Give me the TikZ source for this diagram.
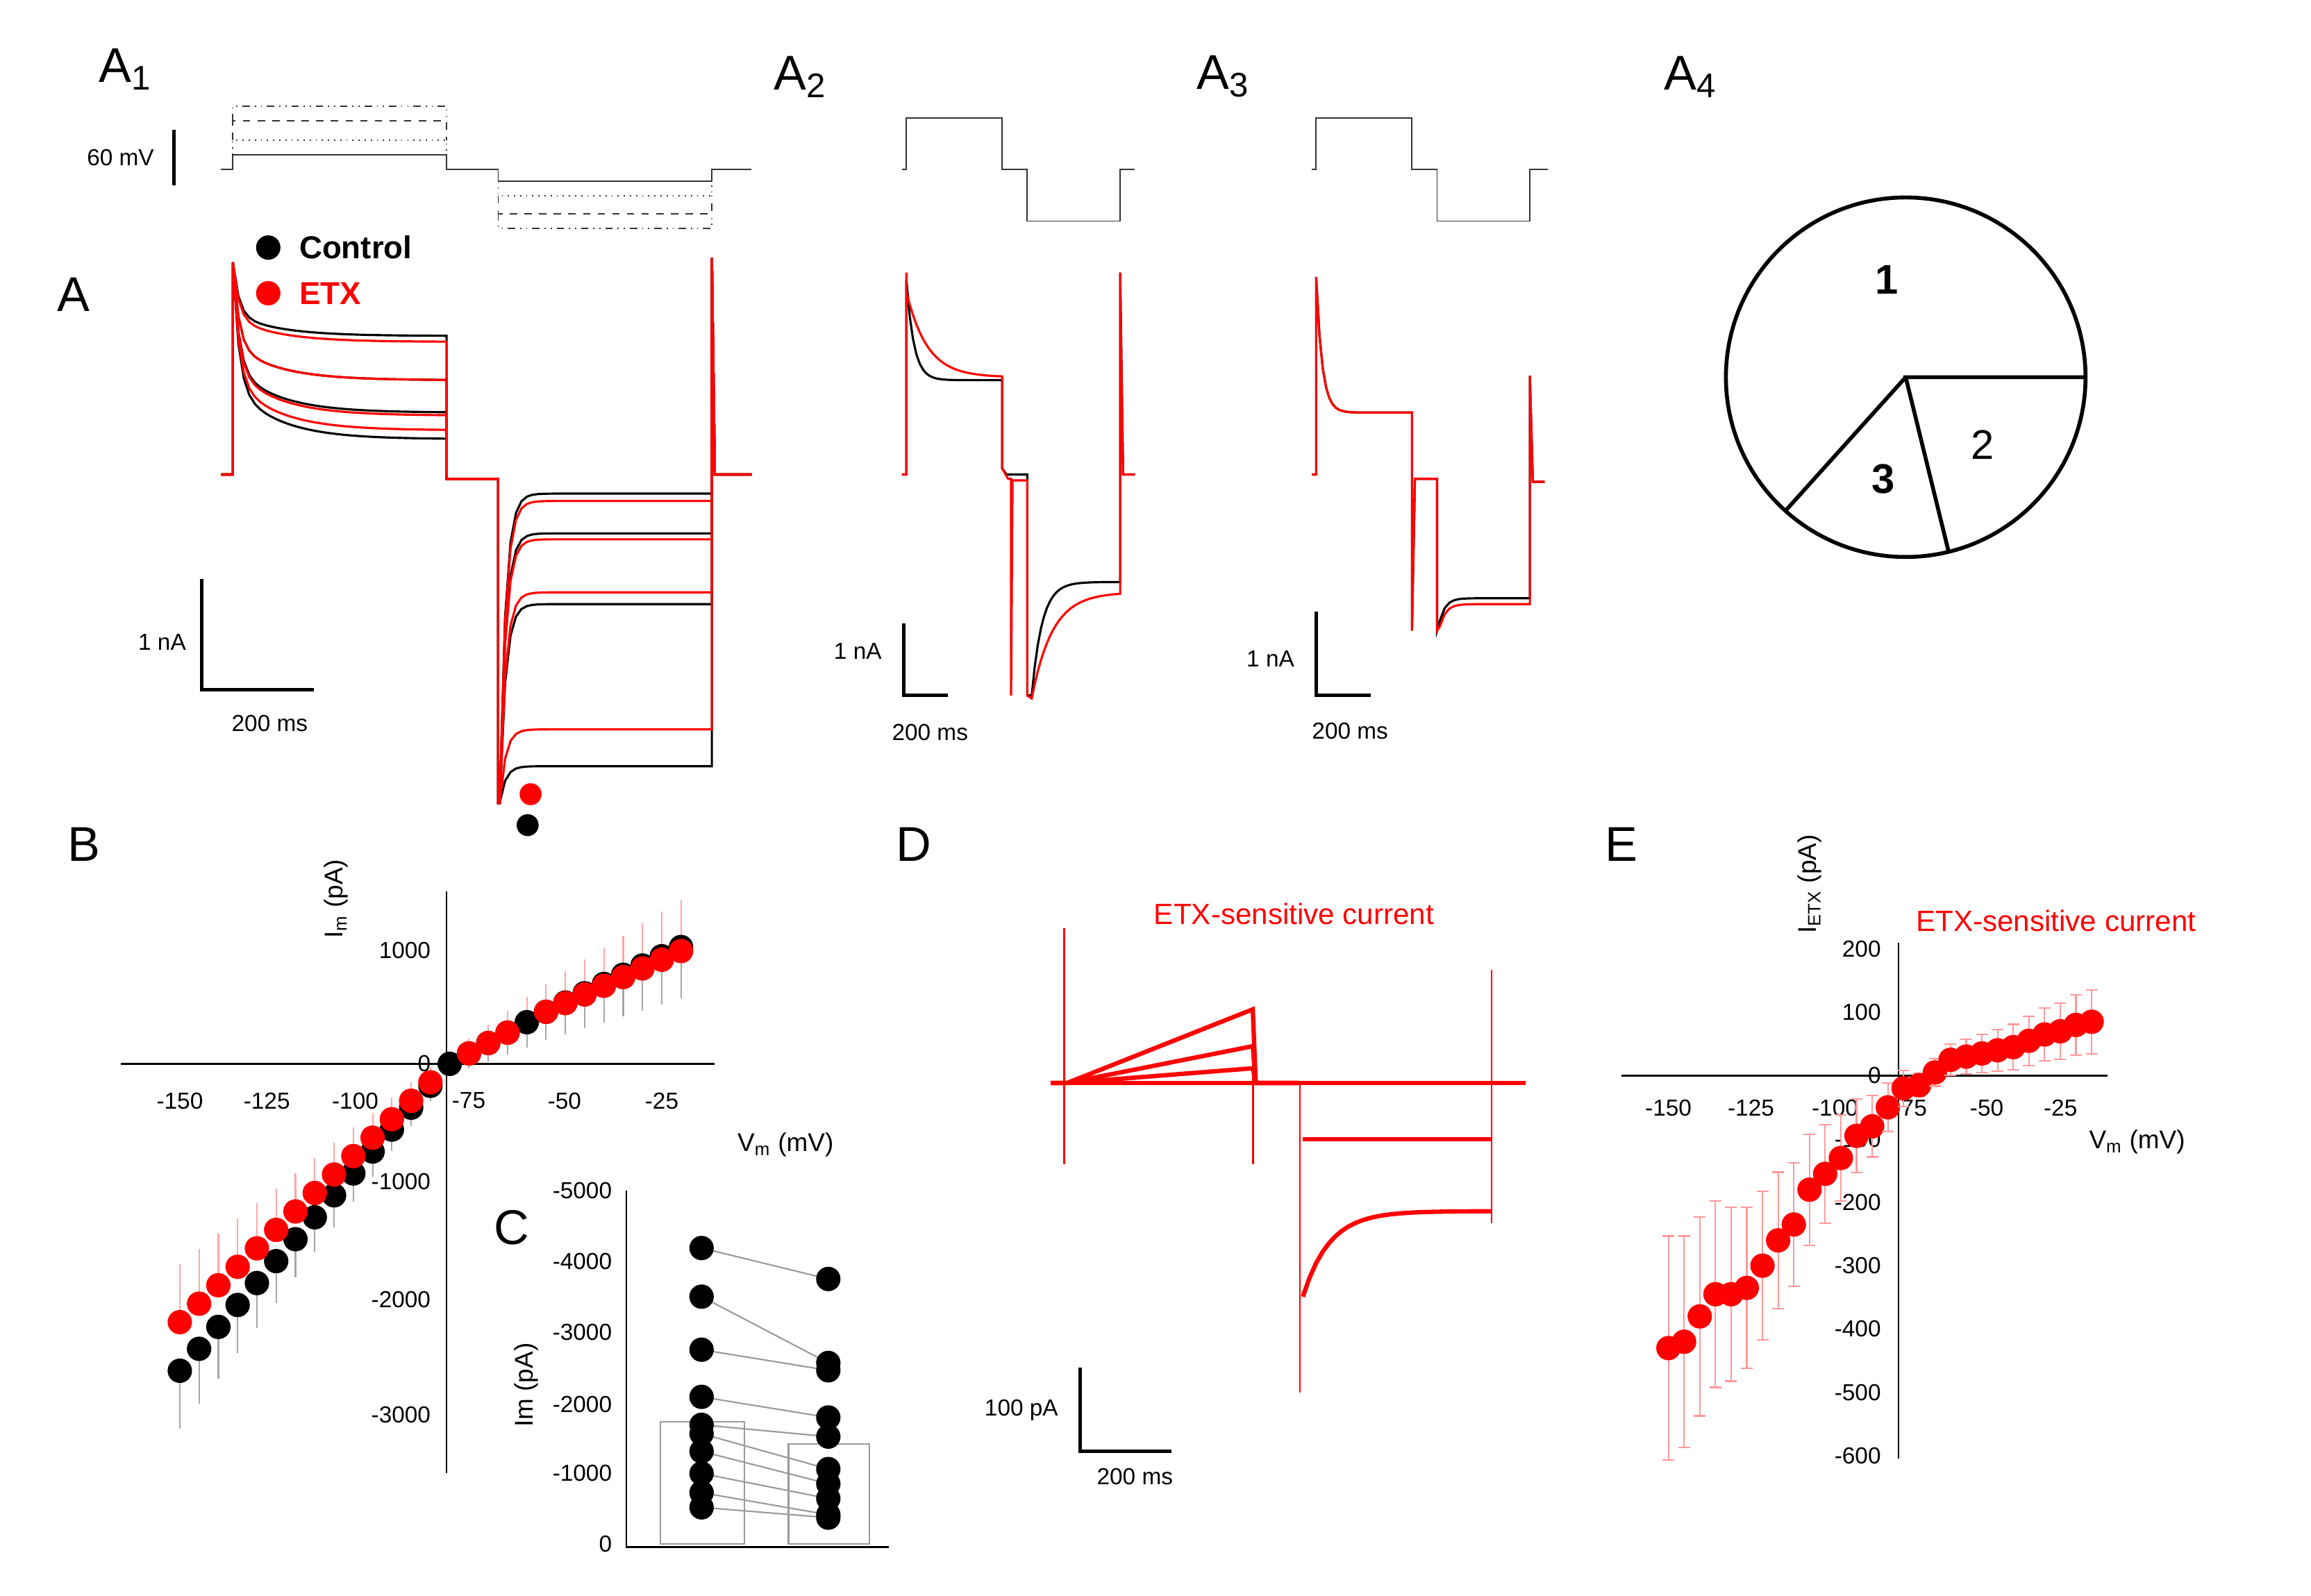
\documentclass[tikz,border=0pt]{standalone}
\usepackage{fontspec}
\setmainfont{Liberation Sans}
\usetikzlibrary{positioning}
\begin{document}
\begin{tikzpicture}[x=0.02122cm, y=-0.02122cm,
  panel/.style = {font=\fontsize{20}{22}\selectfont},
  tick/.style = {font=\fontsize{9.5}{11}\selectfont},
  lab/.style = {font=\fontsize{10.5}{12}\selectfont},
  prot/.style = {line width=0.5pt, black!80},
  trc/.style = {line width=0.9pt},
  bar/.style = {line width=1.4pt},
  ax/.style = {line width=0.7pt},
  dotb/.style = {circle, fill=black, inner sep=0pt, minimum size=10pt},
  dotr/.style = {circle, fill=red, inner sep=0pt, minimum size=10pt}]
\useasboundingbox (0,0) rectangle (1568,1083);
% panel letters
\node[panel] (pA1) at (85,47) {A\textsubscript{1}};
\node[panel] (pA2) at (543,52) {A\textsubscript{2}};
\node[panel] (pA3) at (830,52) {A\textsubscript{3}};
\node[panel] (pA4) at (1147,52) {A\textsubscript{4}};
\node[panel] (pA) at (50,200) {A};
\node[panel] (pB) at (57,573) {B};
\node[panel] (pC) at (347,833) {C};
\node[panel] (pD) at (620,573) {D};
\node[panel] (pE) at (1100,573) {E};
% A1 protocol
\draw[prot] (150,115) -- (158,115) -- (158,105) -- (303,105) -- (303,115) -- (338,115) -- (338,123) -- (483,123) -- (483,115) -- (510,115);
\draw[prot, dotted] (158,105) -- (158,95) -- (303,95) -- (303,105);
\draw[prot, dotted] (338,123) -- (338,133) -- (483,133) -- (483,123);
\draw[prot, dashed] (158,95) -- (158,82) -- (303,82) -- (303,95);
\draw[prot, dashed] (338,133) -- (338,145) -- (483,145) -- (483,133);
\draw[prot, dash dot dot] (158,82) -- (158,72) -- (303,72) -- (303,82);
\draw[prot, dash dot dot] (338,145) -- (338,155) -- (483,155) -- (483,145);
\coordinate (mv1) at (118,88);
\coordinate (mv2) at (118,126);
\draw[bar] (mv1) -- (mv2);
\node[tick, left=1pt] (mvlab) at (112,107) {60 mV};
% legend
\node[dotb] (lgb) at (182,168) {};
\node[dotr] (lgr) at (182,199) {};
\node[font=\fontsize{13}{15}\selectfont\bfseries, right=4pt of lgb] (lgbt) {Control};
\node[font=\fontsize{13}{15}\selectfont\bfseries, text=red, right=4pt of lgr] (lgrt) {ETX};
% A traces
\foreach \La/\Lb/\col in {298/520/black, 280/410/black, 258/362/black, 228/335/black,
                          292/495/red, 282/402/red, 258/366/red, 232/340/red}{
  \draw[trc, \col] (150,322) -- (158,322) -- (158,178)
    -- plot[domain=158:303, samples=40] (\x, {\La+(178-\La)*(0.7*exp(-(\x-158)/4)+0.3*exp(-(\x-158)/30))})
    -- (303,325) -- (338,325) -- (338,545)
    -- plot[domain=339:483, samples=40] (\x, {\Lb+(545-\Lb)*exp(-(\x-339)/4)})
    -- (483,175) -- (485,322) -- (510,322);
}
\coordinate (sa1) at (137,393);
\coordinate (sa2) at (137,468);
\coordinate (sa3) at (213,468);
\draw[bar] (sa1) -- (sa2) -- (sa3);
\node[tick] (sal1) at (110,436) {1 nA};
\node[tick] (sal2) at (183,491) {200 ms};
\node[dotr, minimum size=9pt] (mr) at (360,539) {};
\node[dotb, minimum size=9pt] (mb) at (358,560) {};
% A2 protocol
\draw[prot] (612,115) -- (615,115) -- (615,80) -- (680,80) -- (680,115) -- (697,115) -- (697,150) -- (760,150) -- (760,115) -- (770,115);
% A2 traces
\draw[trc, black] (612,322) -- (615,322) -- (615,190)
  -- plot[domain=615:680, samples=30] (\x, {258+(190-258)*exp(-(\x-615)/5)})
  -- (680,318) -- (683,322) -- (697,322) -- (697,472)
  -- plot[domain=700:760, samples=30] (\x, {395+77*exp(-(\x-700)/7)})
  -- (760,185) -- (762,322) -- (770,322);
\draw[trc, red] (612,322) -- (615,322) -- (615,185)
  -- plot[domain=615:680, samples=30] (\x, {256+(198-256)*exp(-(\x-615)/14)})
  -- (680,318) -- (684,325) -- (686,325) -- (686,472) -- (687,326) -- (697,326) -- (697,472)
  -- plot[domain=700:760, samples=30] (\x, {402+72*exp(-(\x-700)/14)})
  -- (760,185) -- (762,322) -- (770,322);
\coordinate (sb1) at (613,423);
\coordinate (sb2) at (613,472);
\coordinate (sb3) at (643,472);
\draw[bar] (sb1) -- (sb2) -- (sb3);
\node[tick] (sbl1) at (582,442) {1 nA};
\node[tick] (sbl2) at (631,497) {200 ms};
% A3 protocol
\draw[prot] (890,115) -- (893,115) -- (893,80) -- (958,80) -- (958,115) -- (975,115) -- (975,150) -- (1038,150) -- (1038,115) -- (1050,115);
% A3 traces
\foreach \col/\Lc in {black/406, red/410}{
  \draw[trc, \col] (890,322) -- (893,322) -- (893,188)
    -- plot[domain=893:958, samples=30] (\x, {280+(188-280)*exp(-(\x-893)/4)})
    -- (958,428) -- (960,325) -- (975,325) -- (975,428)
    -- plot[domain=977:1038, samples=20] (\x, {\Lc+15*exp(-(\x-977)/4)})
    -- (1038,255) -- (1040,327) -- (1048,327);
}
\coordinate (sc1) at (893,415);
\coordinate (sc2) at (893,472);
\coordinate (sc3) at (930,472);
\draw[bar] (sc1) -- (sc2) -- (sc3);
\node[tick] (scl1) at (862,447) {1 nA};
\node[tick] (scl2) at (916,496) {200 ms};
% A4 pie
\coordinate (pc) at (1293,256);
\coordinate (pe1) at (1415,256);
\coordinate (pe2) at (1322,374);
\coordinate (pe3) at (1212,346);
\draw[line width=1.6pt] (pc) circle (122);
\draw[line width=1.6pt] (pe1) -- (pc) -- (pe2);
\draw[line width=1.6pt] (pc) -- (pe3);
\node[font=\fontsize{17}{19}\selectfont\bfseries] (s1) at (1280,190) {1};
\node[font=\fontsize{17}{19}\selectfont] (s2) at (1345,302) {2};
\node[font=\fontsize{17}{19}\selectfont\bfseries] (s3) at (1278,325) {3};
% B axes
\draw[ax] (82,722) -- (485,722);
\draw[ax] (303,605) -- (303,1000);
\foreach \v/\xp in {-150/122, -125/181, -100/241, -75/318, -50/383, -25/449}
  \node[tick] at (\xp,747) {\v};
\foreach \i/\yp in {1000/645, 0/722, -1000/802, -2000/882, -3000/960}
  \node[tick, left] at (298,\yp) {\i};
\node[lab, rotate=90] (bI) at (228,610) {I\textsubscript{m} (pA)};
\node[lab] (bV) at (533,777) {V\textsubscript{m} (mV)};
% B points
\foreach \v in {-150,-145,...,-20}{
  \pgfmathsetmacro{\xp}{122+(\v+150)*2.616}
  \pgfmathsetmacro{\Ib}{\v<-80 ? 37.9*(\v+80) : (\v<-55 ? 18*(\v+80) : 450+16*(\v+55))}
  \pgfmathsetmacro{\Ir}{\v<-80 ? 31.9*(\v+80) : (\v<-55 ? 18*(\v+80) : 450+15*(\v+55))}
  \pgfmathsetmacro{\yb}{722-\Ib*0.0785}
  \pgfmathsetmacro{\yr}{722-\Ir*0.0785}
  \pgfmathsetmacro{\eb}{8+0.45*abs(\v+80)}
  \draw[black!35, line width=0.6pt] (\xp,\yb) -- (\xp,\yb+\eb);
  \draw[red!35, line width=0.6pt] (\xp,\yr) -- (\xp,\yr-\eb);
  \node[dotb] at (\xp,\yb) {};
}
\foreach \v in {-150,-145,...,-20}{
  \pgfmathsetmacro{\xp}{122+(\v+150)*2.616}
  \pgfmathsetmacro{\Ir}{\v<-80 ? 31.9*(\v+80) : (\v<-55 ? 18*(\v+80) : 450+15*(\v+55))}
  \pgfmathsetmacro{\yr}{722-\Ir*0.0785}
  \ifnum\v=-60 \else \ifnum\v=-80 \else
  \node[dotr] at (\xp,\yr) {};
  \fi\fi
}
% C inset
\draw[black!40, line width=0.6pt] (448,1048) rectangle (505,965);
\draw[black!40, line width=0.6pt] (535,1048) rectangle (590,980);
\draw[ax] (425,808) -- (425,1050) -- (603,1050);
\foreach \i/\yp in {-5000/808, -4000/856, -3000/904, -2000/953, -1000/1000, 0/1048}
  \node[tick, left] at (421,\yp) {\i};
\node[lab, rotate=90] (cI) at (357,940) {Im (pA)};
\foreach \ya/\yb in {847/868, 880/925, 916/930, 948/962, 967/975, 973/997, 985/1007, 1000/1017, 1013/1028, 1023/1030}{
  \draw[black!40, line width=0.6pt] (476,\ya) -- (562,\yb);
  \node[dotb] at (476,\ya) {};
  \node[dotb] at (562,\yb) {};
}
% D trace
\node[font=\fontsize{12}{14}\selectfont, text=red] (dt) at (878,620) {ETX-sensitive current};
\begin{scope}[red, line width=1.8pt]
\foreach \a in {0,10,25,50}
  \draw (713,735) -- (722,735) -- (722+2,735) -- (850,735-\a) -- (852,735) -- (882,735);
\draw[line width=0.8pt] (722,630) -- (722,790);
\draw[line width=0.8pt] (850,690) -- (850,790);
\draw (882,735) -- (1012,735) -- (1035,735);
\draw (884,773) -- (890,773) -- (1012,773);
\draw (884,880) -- plot[domain=884:1012, samples=30] (\x, {822+58*exp(-(\x-884)/18)});
\draw[line width=0.8pt] (882,735) -- (882,945);
\draw[line width=0.8pt] (1012,658) -- (1012,830);
\end{scope}
\coordinate (sd1) at (733,928);
\coordinate (sd2) at (733,985);
\coordinate (sd3) at (795,985);
\draw[bar] (sd1) -- (sd2) -- (sd3);
\node[tick] (sdl1) at (693,957) {100 pA};
\node[tick] (sdl2) at (770,1002) {200 ms};
% E axes
\draw[ax] (1100,730) -- (1430,730);
\draw[ax] (1288,640) -- (1288,990);
\foreach \v/\xp in {-150/1132, -125/1188, -100/1245, -75/1296, -50/1348, -25/1398}
  \node[tick] at (\xp,752) {\v};
\foreach \i in {200,100,...,-600}
  \node[tick, left] at (1282,{730-\i*0.43}) {\i};
\node[lab, rotate=90] (eI) at (1228,600) {I\textsubscript{ETX} (pA)};
\node[lab] (eV) at (1450,775) {V\textsubscript{m} (mV)};
\node[font=\fontsize{12}{14}\selectfont, text=red] (et) at (1395,625) {ETX-sensitive current};
\foreach \v/\i in {-150/-430,-145/-420,-140/-380,-135/-345,-130/-345,-125/-335,-120/-300,-115/-260,-110/-235,-105/-180,-100/-155,-95/-130,-90/-95,-85/-80,-80/-50,-75/-20,-70/-15,-65/5,-60/25,-55/30,-50/35,-45/40,-40/45,-35/55,-30/65,-25/70,-20/80,-15/85}{
  \pgfmathsetmacro{\xp}{1132+(\v+150)*2.127}
  \pgfmathsetmacro{\yp}{730-\i*0.43}
  \pgfmathsetmacro{\er}{\v<-70 ? 8+0.85*abs(\v+70) : 8+0.25*abs(\v+70)}
  \draw[red!40, line width=0.6pt] (\xp,\yp-\er) -- (\xp,\yp+\er);
  \draw[red!40, line width=0.6pt] (\xp-4,\yp-\er) -- (\xp+4,\yp-\er);
  \draw[red!40, line width=0.6pt] (\xp-4,\yp+\er) -- (\xp+4,\yp+\er);
  \node[dotr] at (\xp,\yp) {};
}
\end{tikzpicture}
\end{document}
